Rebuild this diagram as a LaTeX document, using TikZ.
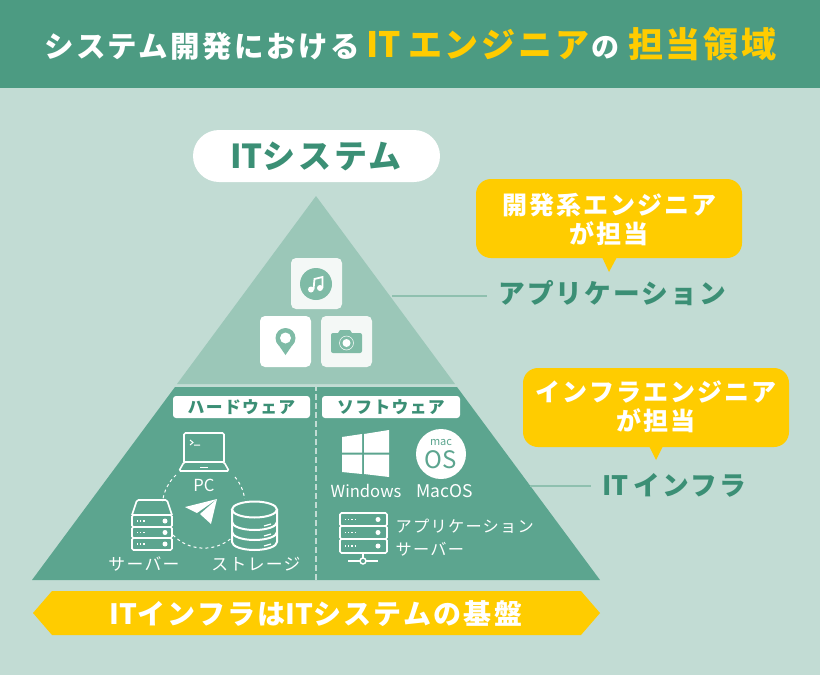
\documentclass[tikz,border=0pt]{standalone}
\usepackage{fontspec}
\setmainfont{Noto Sans CJK JP}
\newfontfamily\jpwide[LetterSpace=8]{Noto Sans CJK JP}
\usepackage{xcolor}
\definecolor{bgpale}{HTML}{C2DCD4}
\definecolor{bandgreen}{HTML}{4C9B82}
\definecolor{basegreen}{HTML}{5CA58F}
\definecolor{topgreen}{HTML}{9BC7B8}
\definecolor{iconmint}{HTML}{7FBBA6}
\definecolor{textgreen}{HTML}{3B8F75}
\definecolor{leadgreen}{HTML}{8FC0AF}
\definecolor{gold}{HTML}{FFCC00}
\definecolor{tilewhite}{HTML}{F4F8F6}
\newcommand{\latin}[1]{{\rmfamily #1}}
\newcommand{\sized}[1]{\fontsize{#1}{#1}\selectfont}
\tikzset{
  titletext/.style={font=\jpwide\bfseries\sized{29.5},white,anchor=west},
  tagtext/.style={font=\jpwide\bfseries\sized{26.7},textgreen,anchor=west,inner xsep=11pt},
  calltext/.style={font=\jpwide\bfseries\fontsize{25}{29}\selectfont,white,align=center},
  headtext/.style={font=\jpwide\bfseries\sized{16.8},textgreen},
  smalltext/.style={font=\jpwide\sized{16.8},white},
  latintext/.style={font=\sized{16.6},white},
  outline/.style={draw=white,line width=1.6pt,rounded corners=1.5pt},
  leader/.style={draw=leadgreen,line width=1.2pt},
}
\begin{document}
\begin{tikzpicture}[x=1pt,y=-1pt]
        \useasboundingbox (0,0) rectangle (820,675);
        \fill[bgpale] (0,0) rectangle (820,675);
        \fill[bandgreen] (0,0) rectangle (820,88);
        \node[titletext] (title) at (40.7,44) {システム開発における\hspace{7pt}\textcolor{gold}{\sized{35}\latin{IT}\hspace{7pt}\sized{34}エンジニア}\hspace{2pt}{\sized{28}の}\hspace{9pt}\textcolor{gold}{\sized{35}担当領域}};

        % pyramid
        \fill[topgreen] (316,196) -- (455,384) -- (177,384) -- cycle;
        \fill[basegreen] (175,387) -- (457,387) -- (600,580) -- (32,580) -- cycle;
        \draw[bgpale,line width=1.5pt,dash pattern=on 6pt off 3pt] (316,385) -- (316,580);

        \fill[white,rounded corners=26pt] (193,130) rectangle (440,182);
        \node[font=\jpwide\bfseries\sized{33},textgreen] (itsystem) at (316,156) {\latin{IT}システム};

        % application icons
        \fill[tilewhite,rounded corners=5pt] (291,258) rectangle (342,309);
        \fill[white,rounded corners=5pt] (260,316) rectangle (311,367);
        \fill[tilewhite,rounded corners=5pt] (321,316) rectangle (372,367);
        \fill[iconmint] (316,284) circle (16);
        \fill[white] (311,289.5) circle (3) (320,288) circle (3);
        \draw[white,line width=1.8pt] (313.5,289.5) -- (314.5,279) -- (322.5,277) -- (322.5,288);
        \fill[iconmint] (285.5,338) circle (10);
        \fill[iconmint] (276.5,342) -- (285.5,355) -- (294.5,342) -- cycle;
        \fill[white] (285.5,338) circle (5.5);
        \fill[iconmint,rounded corners=2pt] (331,333) rectangle (362,353);
        \fill[iconmint] (338,333) -- (340,330) -- (350,330) -- (352,333) -- cycle;
        \draw[white,line width=.5pt] (346.5,343) circle (7);
        \fill[white] (346.5,343) circle (4);

        % hardware
        \fill[white,rounded corners=3pt] (173,396) rectangle (310,418);
        \node[headtext] (hardhead) at (241.5,407) {ハードウェア};
        \draw[outline] (184,462) -- (184,433) -- (224,433) -- (224,462);
        \draw[outline] (184,462) -- (224,462) -- (229,471) -- (179,471) -- cycle;
        \draw[white,line width=1pt] (200,467) -- (208,467);
        \draw[white,line width=1pt] (190,440) -- (193,442.5) -- (190,445) (194,445) -- (200,445);
        \node[latintext] (pc) at (204,485) {PC};
        \draw[white,line width=1pt,dashed] (176,475) arc[start angle=-133,end angle=-173,radius=43];
        \draw[white,line width=1pt,dashed] (235,477) arc[start angle=-40,end angle=-8,radius=43];
        \draw[white,line width=1pt,dashed] (173,535) arc[start angle=136,end angle=50,radius=43];
        \fill[white] (185,507) -- (217,499) -- (197,513) -- cycle;
        \fill[white] (217,499) -- (211,524) -- (200,514) -- cycle;

        \draw[outline] (132,515) -- (137,500) -- (167,500) -- (172,515);
        \draw[outline] (132,515) rectangle (172,527);
        \draw[outline] (132,527) rectangle (172,538);
        \draw[outline] (132,538) rectangle (172,550);
        \draw[white,line width=1.2pt,dotted] (137,521) -- (146,521) (137,532.5) -- (146,532.5) (137,544) -- (146,544);
        \fill[white] (165,521) circle (2.5) (165,532.5) circle (2.5) (165,544) circle (2.5);
        \node[smalltext] (serverlabel) at (144,564) {サーバー};

        \draw[white,line width=2pt] (254.5,509.5) ellipse (22.5 and 8);
        \draw[white,line width=2pt] (232,509.5) -- (232,542) arc[start angle=180,end angle=0,x radius=22.5,y radius=8] -- (277,509.5);
        \draw[white,line width=2pt] (232,522) arc[start angle=180,end angle=0,x radius=22.5,y radius=8];
        \draw[white,line width=2pt] (232,532) arc[start angle=180,end angle=0,x radius=22.5,y radius=8];
        \draw[white,line width=1.2pt] (264,526) -- (271,524) (264,536) -- (271,534) (264,546) -- (271,544);
        \node[smalltext] (storagelabel) at (256,564) {ストレージ};

        % software
        \fill[white,rounded corners=3pt] (322,396) rectangle (460,418);
        \node[headtext] (softhead) at (391,407) {ソフトウェア};
        \fill[white] (342,437) -- (362,434) -- (362,452.5) -- (342,452.5) -- cycle;
        \fill[white] (364,434) -- (389,430) -- (389,452.5) -- (364,452.5) -- cycle;
        \fill[white] (342,454.5) -- (362,454.5) -- (362,474) -- (342,472) -- cycle;
        \fill[white] (364,454.5) -- (389,454.5) -- (389,477) -- (364,474) -- cycle;
        \fill[white] (441,454) circle (25);
        \node[font=\fontsize{11}{11}\selectfont,basegreen,inner sep=0pt] (mactext) at (441,443) {mac};
        \node[font=\fontsize{24}{24}\selectfont,basegreen,inner sep=0pt] (ostext) at (441,460) {OS};
        \node[latintext] (windows) at (366,491) {Windows};
        \node[font=\sized{17.5},white] (macos) at (444.5,491) {MacOS};

        \draw[outline] (340,513) rectangle (387,526);
        \draw[outline] (340,526) rectangle (387,539);
        \draw[outline] (340,539) rectangle (387,553);
        \draw[white,line width=1.2pt,dotted] (345,519.5) -- (355,519.5) (345,532.5) -- (355,532.5) (345,546) -- (355,546);
        \fill[white] (378,519.5) circle (2.5) (378,532.5) circle (2.5) (378,546) circle (2.5);
        \draw[white,line width=1.4pt] (363,553) -- (363,559) (348,561) -- (378,561);
        \draw[white,line width=1.4pt,fill=basegreen] (363,561) circle (3);
        \node[smalltext,anchor=west,font=\jpwide\sized{16.2}] (appserver1) at (392,526) {アプリケーション};
        \node[smalltext,anchor=west,font=\jpwide\sized{16.2}] (appserver2) at (392,549) {サーバー};

        % right side
        \node[tagtext] (applabel) at (487,293) {アプリケーション};
        \node[tagtext] (infralabel) at (591,485) {\latin{IT}\hspace{5pt}インフラ};
        \coordinate (apptick) at (392,296);
        \coordinate (infratick) at (530,486);
        \draw[leader] (apptick) -- (apptick -| applabel.west);
        \draw[leader] (infratick) -- (infratick -| infralabel.west);

        \fill[gold,rounded corners=15pt] (476,179) rectangle (742,258);
        \fill[gold] (602,257) -- (617,257) -- (609,272) -- cycle;
        \node[calltext] (devcall) at (609,219) {開発系エンジニア\\が担当};
        \fill[gold,rounded corners=15pt] (523,368) rectangle (789,447);
        \fill[gold] (649,446) -- (663,446) -- (656,460) -- cycle;
        \node[calltext] (infracall) at (656,407) {インフラエンジニア\\が担当};

        % base ribbon
        \fill[gold] (33,613) -- (52,591) -- (581,591) -- (600,613) -- (581,635) -- (52,635) -- cycle;
        \node[font=\jpwide\bfseries\sized{28},white] (basetext) at (316,614) {\latin{IT}インフラは\latin{IT}システムの基盤};
\end{tikzpicture}
\end{document}
